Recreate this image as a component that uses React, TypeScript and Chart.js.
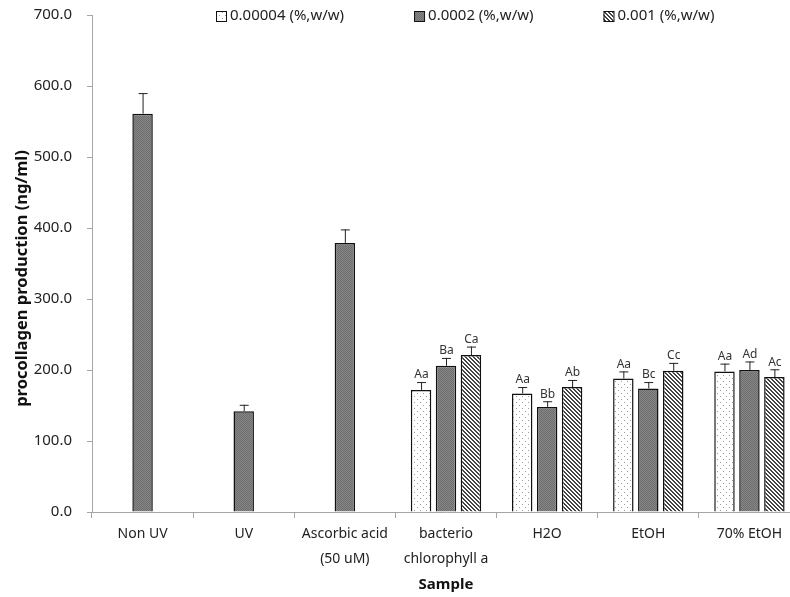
import React, { useEffect, useRef } from "react";
import { Chart, registerables } from "chart.js";
Chart.register(...registerables);

const categories: (string | string[])[] = [
  "Non UV",
  "UV",
  ["Ascorbic acid", "(50 uM)"],
  ["bacterio", "chlorophyll a"],
  "H2O",
  "EtOH",
  "70% EtOH",
];
const seriesNames = ["0.00004 (%,w/w)", "0.0002 (%,w/w)", "0.001 (%,w/w)"];

const lowValues = [null, null, null, 172, 167, 188, 198];
const midValues = [561, 142, 379, 206, 148, 174, 200];
const highValues = [null, null, null, 221, 176, 199, 190];

const lowErrors = [null, null, null, 11, 9, 10, 11];
const midErrors = [29, 9, 19, 11, 8, 9, 12];
const highErrors = [null, null, null, 12, 10, 11, 11];

const lowLetters = ["", "", "", "Aa", "Aa", "Aa", "Aa"];
const midLetters = ["", "", "", "Ba", "Bb", "Bc", "Ad"];
const highLetters = ["", "", "", "Ca", "Ab", "Cc", "Ac"];

const yTicks = [0, 100, 200, 300, 400, 500, 600, 700];
const yTitle = "procollagen production (ng/ml)";
const xTitle = "Sample";

const FONT = "'Noto Sans', 'DejaVu Sans', sans-serif";

function makePattern(kind: string): CanvasPattern | string {
  const c = document.createElement("canvas");
  const ctx = c.getContext("2d")!;
  if (kind === "dots") {
    c.width = 6;
    c.height = 6;
    ctx.fillStyle = "#ffffff";
    ctx.fillRect(0, 0, 6, 6);
    ctx.fillStyle = "#9a9a9a";
    ctx.fillRect(0, 0, 1, 1);
    ctx.fillRect(3, 3, 1, 1);
  } else if (kind === "dark") {
    c.width = 2;
    c.height = 2;
    ctx.fillStyle = "#868686";
    ctx.fillRect(0, 0, 2, 2);
    ctx.fillStyle = "#6e6e6e";
    ctx.fillRect(0, 0, 1, 1);
    ctx.fillRect(1, 1, 1, 1);
  } else {
    c.width = 4;
    c.height = 4;
    ctx.fillStyle = "#ffffff";
    ctx.fillRect(0, 0, 4, 4);
    ctx.fillStyle = "#444444";
    for (let i = 0; i < 4; i++) {
      ctx.fillRect(i, i, 1, 1);
      ctx.fillRect((i + 1) % 4, i, 1, 1);
    }
  }
  const p = ctx.createPattern(c, "repeat");
  return p || "#888";
}

export default function App() {
  const ref = useRef<HTMLCanvasElement>(null);

  useEffect(() => {
    if (!ref.current) return;
    const fills = [makePattern("dots"), makePattern("dark"), makePattern("hatch")];
    const errs = [lowErrors, midErrors, highErrors];
    const letters = [lowLetters, midLetters, highLetters];

    const overlay = {
      id: "overlay",
      afterDatasetsDraw(chart: any) {
        const ctx = chart.ctx;
        const y = chart.scales.y;
        ctx.save();
        chart.data.datasets.forEach((ds: any, di: number) => {
          const meta = chart.getDatasetMeta(di);
          meta.data.forEach((el: any, i: number) => {
            const v = ds.data[i];
            if (v === null || v === undefined) return;
            const e = errs[di][i] || 0;
            const yTop = y.getPixelForValue(v + e);
            ctx.strokeStyle = "#222";
            ctx.lineWidth = 1;
            ctx.beginPath();
            ctx.moveTo(el.x + 0.5, el.y);
            ctx.lineTo(el.x + 0.5, yTop);
            ctx.moveTo(el.x - 4, yTop + 0.5);
            ctx.lineTo(el.x + 5, yTop + 0.5);
            ctx.stroke();
            const t = letters[di][i];
            if (t) {
              ctx.fillStyle = "#333";
              ctx.font = `12px ${FONT}`;
              ctx.textAlign = "center";
              ctx.textBaseline = "bottom";
              ctx.fillText(t, el.x + 0.5, yTop - 1);
            }
          });
        });
        ctx.restore();
      },
      afterDraw(chart: any) {
        const ctx = chart.ctx;
        const area = chart.chartArea;
        ctx.save();
        // legend
        ctx.font = `15px ${FONT}`;
        ctx.textBaseline = "middle";
        ctx.textAlign = "left";
        let x = area.left + 124;
        const yc = 16;
        seriesNames.forEach((name, i) => {
          ctx.fillStyle = fills[i];
          ctx.fillRect(x, yc - 5, 10, 10);
          ctx.strokeStyle = "#111";
          ctx.lineWidth = 1;
          ctx.strokeRect(x + 0.5, yc - 4.5, 10, 10);
          ctx.fillStyle = "#222";
          ctx.fillText(name, x + 14, yc);
          x += 14 + ctx.measureText(name).width + 70;
        });
        // y axis title
        ctx.translate(22, (area.top + area.bottom) / 2 + 15);
        ctx.rotate(-Math.PI / 2);
        ctx.font = `bold 16.5px ${FONT}`;
        ctx.fillStyle = "#111";
        ctx.textAlign = "center";
        ctx.textBaseline = "middle";
        ctx.fillText(yTitle, 0, 0);
        ctx.restore();
      },
    };

    const chart = new Chart(ref.current, {
      type: "bar",
      data: {
        labels: categories as any,
        datasets: [lowValues, midValues, highValues].map((d, i) => ({
          label: seriesNames[i],
          data: d as any,
          backgroundColor: fills[i] as any,
          borderColor: "#111",
          borderWidth: 1.5,
          categoryPercentage: 0.74,
          barPercentage: 0.82,
        })),
      },
      options: {
        responsive: false,
        animation: false,
        layout: { padding: { top: 15, right: 0, left: 0, bottom: 0 } },
        plugins: {
          legend: { display: false },
          tooltip: { enabled: false },
        },
        scales: {
          x: {
            grid: {
              offset: true,
              drawOnChartArea: false,
              tickLength: 6,
              color: "#a6a6a6",
            },
            border: { color: "#a6a6a6", width: 1 },
            ticks: {
              color: "#222",
              font: { family: FONT, size: 14, lineHeight: 1.8 },
              padding: 3,
              maxRotation: 0,
              autoSkip: false,
            },
            title: {
              display: true,
              text: xTitle,
              color: "#111",
              font: { family: FONT, size: 15, weight: "bold" },
              padding: { top: 0, bottom: 3 },
            },
            afterFit(scale: any) {
              scale.height = 85;
            },
          },
          y: {
            min: 0,
            max: 700,
            afterBuildTicks(scale: any) {
              scale.ticks = yTicks.map((v) => ({ value: v }));
            },
            grid: {
              drawOnChartArea: false,
              tickLength: 5,
              color: "#a6a6a6",
            },
            border: { color: "#a6a6a6", width: 1 },
            ticks: {
              color: "#222",
              font: { family: FONT, size: 15 },
              padding: 15,
              callback: (v: any) => Number(v).toFixed(1),
            },
            title: { display: false },
            afterFit(scale: any) {
              scale.width = 92;
              scale.paddingTop = 0;
              scale.paddingBottom = 0;
            },
          },
        },
      },
      plugins: [overlay],
    });
    return () => chart.destroy();
  }, []);

  return (
    <div
      style={{
        position: "fixed",
        left: 0,
        top: 0,
        width: 790,
        height: 597,
        overflow: "hidden",
        background: "#fff",
      }}
    >
      <canvas ref={ref} width={800} height={597} style={{ display: "block" }} />
    </div>
  );
}
